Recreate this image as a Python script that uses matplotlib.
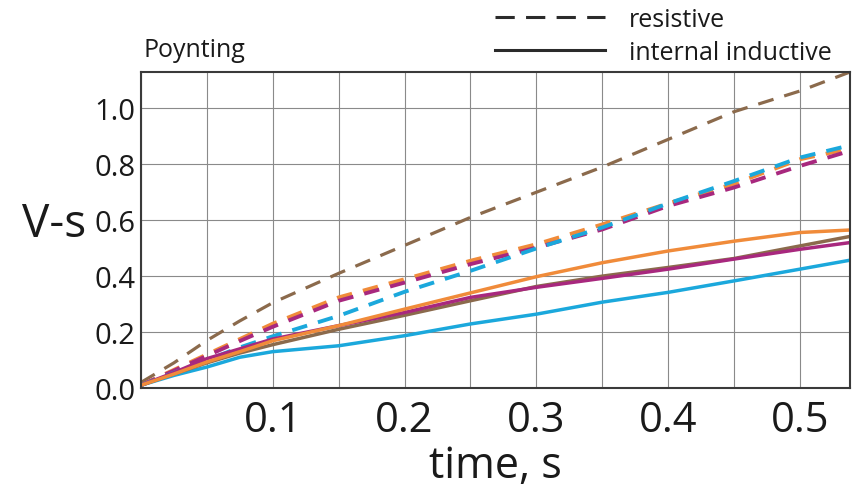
import matplotlib
matplotlib.use('Agg')
import matplotlib.pyplot as plt
from matplotlib.lines import Line2D
from matplotlib.ticker import MultipleLocator

plt.rcParams['font.family'] = ['Open Sans', 'DejaVu Sans']

# --- Data ---
time_s = [0.0, 0.025, 0.05, 0.075, 0.1, 0.15, 0.2, 0.25, 0.3, 0.35, 0.4, 0.45, 0.5, 0.538]

# resistive (dashed)
res_brown = [0.02, 0.09, 0.17, 0.24, 0.305, 0.41, 0.51, 0.61, 0.70, 0.79, 0.889, 0.988, 1.062, 1.13]
res_orange = [0.01, 0.065, 0.12, 0.175, 0.23, 0.324, 0.389, 0.455, 0.514, 0.585, 0.66, 0.73, 0.818, 0.856]
res_magenta = [0.01, 0.062, 0.115, 0.168, 0.219, 0.312, 0.377, 0.443, 0.502, 0.567, 0.651, 0.717, 0.794, 0.848]
res_cyan = [0.01, 0.055, 0.10, 0.145, 0.185, 0.258, 0.344, 0.419, 0.499, 0.574, 0.66, 0.74, 0.824, 0.868]

# internal inductive (solid)
ind_orange = [0.01, 0.05, 0.093, 0.13, 0.169, 0.223, 0.282, 0.34, 0.398, 0.448, 0.49, 0.525, 0.556, 0.565]
ind_magenta = [0.01, 0.055, 0.105, 0.14, 0.175, 0.223, 0.27, 0.324, 0.36, 0.392, 0.425, 0.461, 0.496, 0.52]
ind_brown = [0.01, 0.05, 0.09, 0.125, 0.155, 0.21, 0.26, 0.312, 0.363, 0.40, 0.431, 0.463, 0.508, 0.542]
ind_cyan = [0.01, 0.045, 0.075, 0.11, 0.13, 0.151, 0.187, 0.229, 0.264, 0.307, 0.342, 0.383, 0.425, 0.457]

BROWN = '#8b6a4c'
ORANGE = '#f08b3a'
MAGENTA = '#a8287e'
CYAN = '#1ba8dc'

fig = plt.figure(figsize=(8.57, 4.89), dpi=100)
ax = fig.add_axes([141 / 857, 100 / 489, 709 / 857, 316 / 489])

# dashed: resistive
ax.plot(time_s, res_brown, color=BROWN, lw=2.3, dashes=(5.0, 3.5))
ax.plot(time_s, res_orange, color=ORANGE, lw=2.8, dashes=(4.0, 2.9))
ax.plot(time_s, res_magenta, color=MAGENTA, lw=2.8, dashes=(4.0, 2.9))
ax.plot(time_s, res_cyan, color=CYAN, lw=2.8, dashes=(4.0, 2.9))

# solid: internal inductive
ax.plot(time_s, ind_cyan, color=CYAN, lw=2.5)
ax.plot(time_s, ind_brown, color=BROWN, lw=2.5)
ax.plot(time_s, ind_magenta, color=MAGENTA, lw=2.5)
ax.plot(time_s, ind_orange, color=ORANGE, lw=2.5)

ax.set_xlim(0, 0.538)
ax.set_ylim(0, 1.13)
ax.xaxis.set_minor_locator(MultipleLocator(0.05))
ax.yaxis.set_major_locator(MultipleLocator(0.2))
ax.set_xticks([0.1, 0.2, 0.3, 0.4, 0.5])
ax.set_xticklabels(['0.1', '0.2', '0.3', '0.4', '0.5'])

ax.grid(True, which='both', axis='x', color='#8a8a8a', lw=0.8)
ax.grid(True, which='major', axis='y', color='#8a8a8a', lw=0.8)
ax.set_axisbelow(True)
ax.tick_params(which='both', length=0)
ax.tick_params(axis='x', labelsize=30, pad=8, colors='#1a1a1a')
ax.tick_params(axis='y', labelsize=21, pad=4, colors='#1a1a1a')
for s in ax.spines.values():
    s.set_color('#3a3a3a')
    s.set_linewidth(1.5)

ax.set_xlabel('time, s', fontsize=31, color='#1a1a1a', labelpad=2)
ax.set_ylabel('V-s', fontsize=33, rotation=0, ha='center', va='center', color='#1a1a1a')
ax.yaxis.set_label_coords(-0.1227, 0.519)

ax.text(0.003, 1.05, 'Poynting', transform=ax.transAxes, fontsize=18,
        va='baseline', ha='left', color='#1a1a1a')

handles = [Line2D([], [], color='#2b2b2b', lw=2.2, dashes=(6.3, 3.7)),
           Line2D([], [], color='#2b2b2b', lw=2.2)]
fig.legend(handles, ['resistive', 'internal inductive'], loc='upper left',
           bbox_to_anchor=(495 / 857, 1 - 8 / 489), frameon=False, fontsize=18,
           handlelength=4.4, handletextpad=0.95, labelspacing=0.32,
           borderpad=0, borderaxespad=0, labelcolor='#1a1a1a')

fig.savefig('out.png', dpi=100)
